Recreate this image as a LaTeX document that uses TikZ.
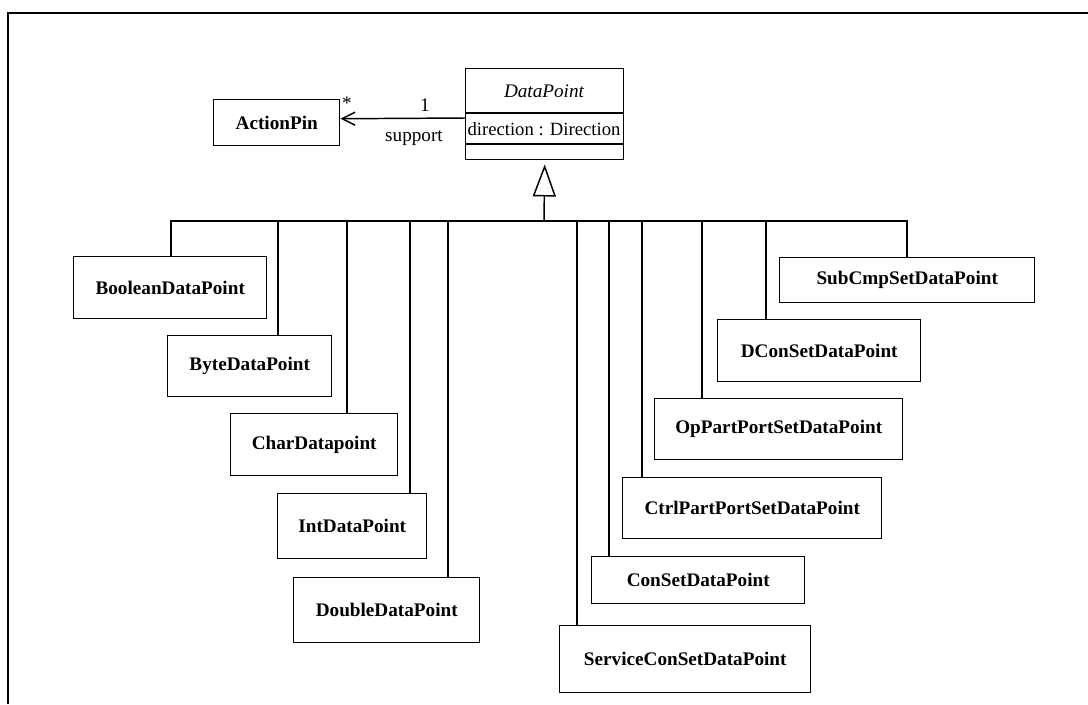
\documentclass[tikz,border=0pt]{standalone}
\usepackage{fontspec}
\setmainfont{Liberation Serif}
\usetikzlibrary{arrows.meta}
\tikzset{
  cls/.style={draw, line width=1.1pt, inner sep=0pt, align=center, anchor=north west,
    font=\fontsize{14.4}{17}\selectfont\bfseries},
  conn/.style={line width=1.1pt},
  lbl/.style={inner sep=0pt, font=\fontsize{14.4}{17}\selectfont},
}
\begin{document}
\begin{tikzpicture}[x=0.75pt, y=-0.75pt]
\useasboundingbox (0,0) rectangle (1088,704);
% frame
\draw[line width=1.5pt] (8,704) -- (8,13) -- (1088,13);

% classes
\node[cls, minimum width=94.5pt, minimum height=34.5pt] (ap) at (213,99) {ActionPin};
\node[draw, line width=1.1pt, inner sep=0pt, anchor=north west, minimum width=118.5pt, minimum height=68.25pt] (dp) at (465,68) {};
\draw[line width=1.1pt] ([yshift=-33.75pt]dp.north west) -- ([yshift=-33.75pt]dp.north east);
\draw[line width=1.1pt] ([yshift=-57pt]dp.north west) -- ([yshift=-57pt]dp.north east);
\node[lbl, font=\fontsize{14.4}{17}\selectfont\itshape] (dpname) at (544,91) {DataPoint};
\node[lbl, font=\fontsize{14}{17}\selectfont] (dpattr) at (544,129) {direction : Direction};

\node[cls, minimum width=144.75pt, minimum height=46.5pt] (bool) at (73,256) {BooleanDataPoint};
\node[cls, minimum width=123pt, minimum height=45.75pt] (byte) at (167,335) {ByteDataPoint};
\node[cls, minimum width=125.25pt, minimum height=46.5pt] (char) at (230,413) {CharDatapoint};
\node[cls, minimum width=111.75pt, minimum height=48.75pt] (int) at (277,493) {IntDataPoint};
\node[cls, minimum width=139.5pt, minimum height=48.75pt] (dbl) at (293,577) {DoubleDataPoint};
\node[cls, minimum width=188.25pt, minimum height=50.25pt] (svc) at (559,625) {ServiceConSetDataPoint};
\node[cls, minimum width=159.75pt, minimum height=35.25pt] (con) at (591,556) {ConSetDataPoint};
\node[cls, minimum width=194.25pt, minimum height=45.75pt] (ctrl) at (622,477) {CtrlPartPortSetDataPoint};
\node[cls, minimum width=186pt, minimum height=45.75pt] (op) at (654,398) {OpPartPortSetDataPoint};
\node[cls, minimum width=152.25pt, minimum height=46.5pt] (dcon) at (717,319) {DConSetDataPoint};
\node[cls, minimum width=191.25pt, minimum height=33.75pt] (sub) at (779,257) {SubCmpSetDataPoint};

% association
\draw[conn, -{Straight Barb[length=9.75pt, width=9.75pt, line width=1.1pt]}]
  ([yshift=-37.5pt]dp.north west) -- ([yshift=3pt]ap.east);
\node[lbl] (mstar) at (347,103) {*};
\node[lbl] (mone) at (425,105) {1};
\node[lbl] (role) at (414,138) {support};

% generalization
\coordinate (bus) at (544,221);
\coordinate (intstem) at ([xshift=99.75pt]int.north west);
\coordinate (svcstem) at ([xshift=13.5pt]svc.north west);
\draw[conn, -{Triangle[open, length=24pt, width=17.25pt, line width=1.1pt]}, shorten >=3pt] (bus) -- (dp.south);
\draw[conn] (bus) -| ([xshift=73.5pt]bool.north west);
\draw[conn] (bus) -| ([xshift=83.25pt]byte.north west);
\draw[conn] (bus) -| ([xshift=87.75pt]char.north west);
\draw[conn] (bus) -| (intstem);
\draw[conn] (bus) -| ([xshift=116.25pt]dbl.north west);
\draw[conn] (bus) -| (svcstem);
\draw[conn] (bus) -| ([xshift=13.5pt]con.north west);
\draw[conn] (bus) -| ([xshift=15pt]ctrl.north west);
\draw[conn] (bus) -| ([xshift=36pt]op.north west);
\draw[conn] (bus) -| ([xshift=36.75pt]dcon.north west);
\draw[conn] (bus) -| ([xshift=96pt]sub.north west);
\draw[line width=1.7pt] (intstem |- bus) -- (svcstem |- bus);
\end{tikzpicture}
\end{document}
